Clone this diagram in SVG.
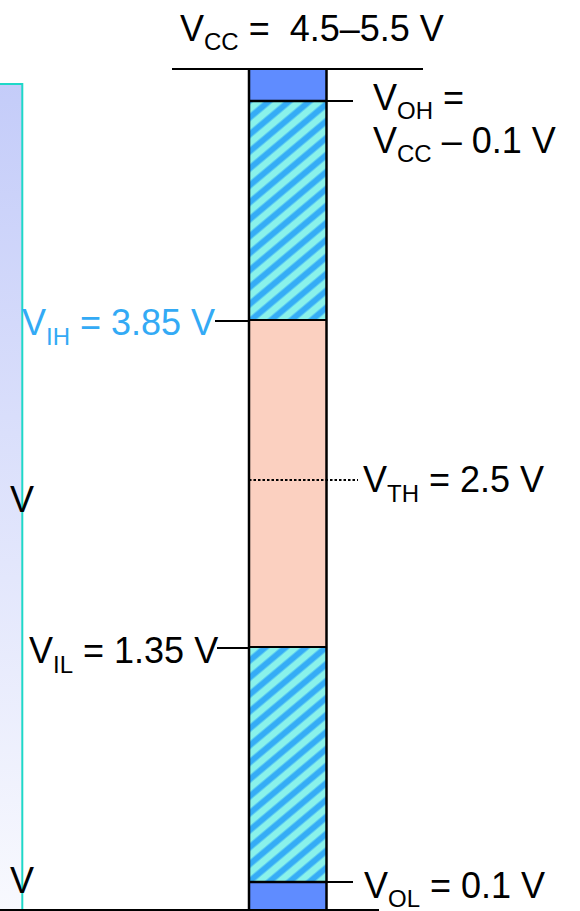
<svg xmlns="http://www.w3.org/2000/svg" width="580" height="911" viewBox="0 0 580 911">
  <defs>
    <linearGradient id="panelGrad" x1="0" y1="0" x2="0" y2="1">
      <stop offset="0" stop-color="#c4ccf9"/>
      <stop offset="1" stop-color="#f8f9fe"/>
    </linearGradient>
    <pattern id="hatch" patternUnits="userSpaceOnUse" width="13" height="13" patternTransform="rotate(50)">
      <rect x="0" y="0" width="13" height="13" fill="#8af2ea"/>
      <rect x="0" y="0" width="7" height="13" fill="#5ccdf2"/>
      <rect x="1" y="0" width="5" height="13" fill="#35acf6"/>
    </pattern>
    <style>
      text { font-family: "Liberation Sans", Arial, sans-serif; font-size: 36px; fill: #000; white-space: pre; }
      .sub { font-size: 24px; }
      .blue { fill: #33aaf5; }
      .line { stroke: #000; stroke-width: 2; fill: none; }
      .edge { stroke: #000; stroke-width: 2.5; }
      .cyan { stroke: #1ed8c8; stroke-width: 2; fill: none; }
    </style>
  </defs>

  <rect width="580" height="911" fill="#ffffff"/>

  <g id="left-panel">
    <rect x="0" y="84" width="22" height="827" fill="url(#panelGrad)"/>
    <polyline class="cyan" points="0,84 22.3,84 22.3,911"/>
    <text x="10" y="512">V</text>
    <text x="10" y="893">V</text>
  </g>

  <g id="bar">
    <rect x="249" y="69" width="77.5" height="32" fill="#5f8cff"/>
    <rect x="249" y="101" width="77.5" height="219" fill="url(#hatch)"/>
    <rect x="249" y="320" width="77.5" height="327" fill="#fbd0c0"/>
    <rect x="249" y="647" width="77.5" height="235" fill="url(#hatch)"/>
    <rect x="249" y="882" width="77.5" height="29" fill="#5f8cff"/>
    <line class="edge" x1="249" y1="69" x2="249" y2="911"/>
    <line class="edge" x1="326.5" y1="69" x2="326.5" y2="911"/>
    <line class="edge" x1="249" y1="101" x2="326.5" y2="101"/>
    <line class="line" x1="249" y1="320" x2="326.5" y2="320"/>
    <line class="line" x1="249" y1="647" x2="326.5" y2="647"/>
    <line class="edge" x1="249" y1="882" x2="326.5" y2="882" stroke-width="3"/>
  </g>

  <g id="connectors">
    <line class="line" x1="172" y1="69" x2="423" y2="69"/>
    <line class="line" x1="0" y1="910" x2="379" y2="910"/>
    <line class="line" x1="326.5" y1="101" x2="353" y2="101"/>
    <line class="line" x1="215" y1="321" x2="249" y2="321"/>
    <line class="line" x1="249" y1="480" x2="358" y2="480" stroke-width="2.5" stroke-dasharray="2.5 2"/>
    <line class="line" x1="217" y1="648" x2="249" y2="648"/>
    <line class="line" x1="326.5" y1="882" x2="353" y2="882"/>
  </g>

  <g id="labels">
    <text id="vcc" x="180" y="41" xml:space="preserve">V<tspan class="sub" dy="9">CC</tspan><tspan dy="-9"> =  4.5–5.5 V</tspan></text>
    <text id="voh1" x="373" y="110">V<tspan class="sub" dy="9">OH</tspan><tspan dy="-9"> =</tspan></text>
    <text id="voh2" x="373" y="153">V<tspan class="sub" dy="9">CC</tspan><tspan dy="-9"> – 0.1 V</tspan></text>
    <text id="vih" class="blue" x="22" y="335">V<tspan class="sub" dy="10">IH</tspan><tspan dy="-10"> = 3.85 V</tspan></text>
    <text id="vth" x="363" y="492">V<tspan class="sub" dy="10">TH</tspan><tspan dy="-10"> = 2.5 V</tspan></text>
    <text id="vil" x="29" y="663">V<tspan class="sub" dy="10">IL</tspan><tspan dy="-10"> = 1.35 V</tspan></text>
    <text id="vol" x="364" y="898">V<tspan class="sub" dy="9">OL</tspan><tspan dy="-9"> = 0.1 V</tspan></text>
  </g>
</svg>
